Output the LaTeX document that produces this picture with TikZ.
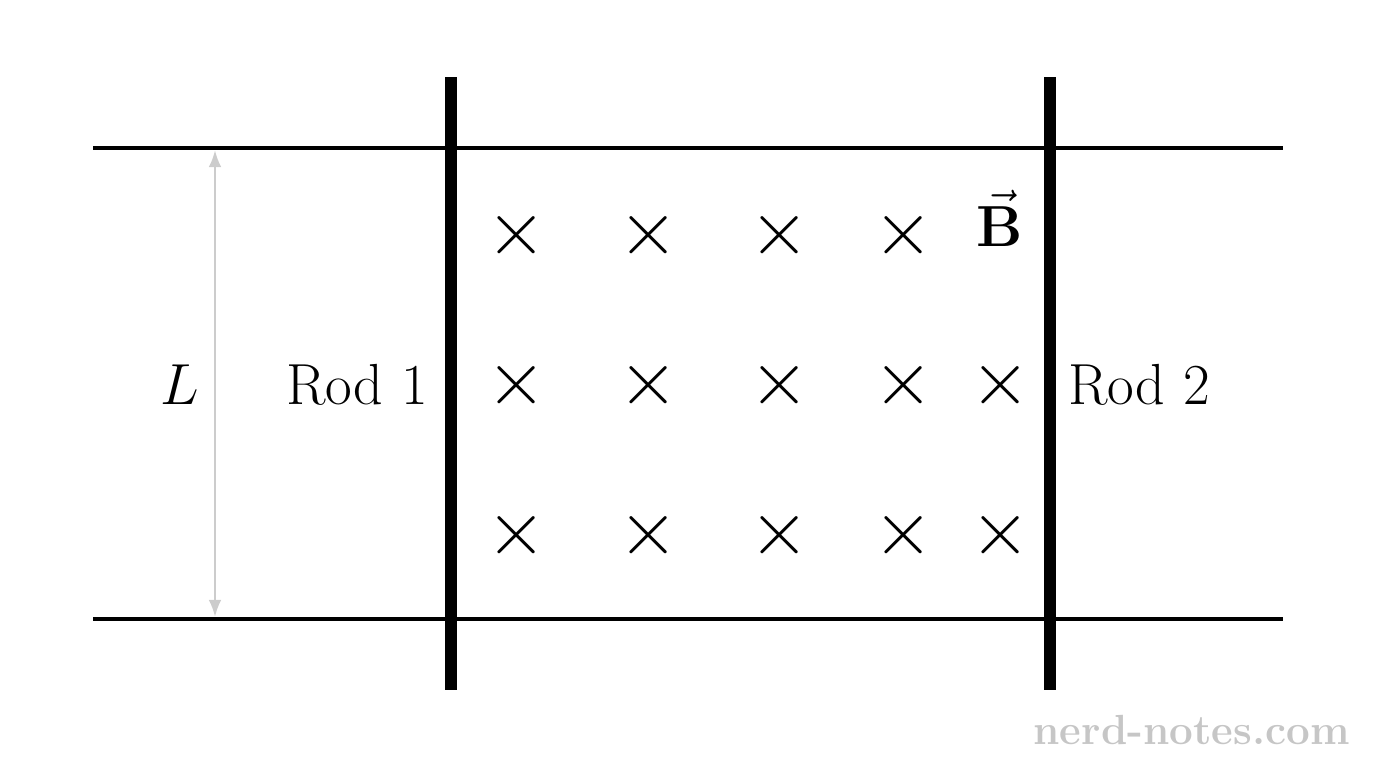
\RequirePackage{fix-cm}
\documentclass[tikz,border=0pt]{standalone}
\usepackage{amsmath}
\usetikzlibrary{arrows.meta}
\tikzset{
  rail/.style={line width=2.3pt},
  rod/.style={line width=6.8pt},
  field/.style={font=\fontsize{44}{44}\selectfont, inner sep=0pt},
  lbl/.style={font=\fontsize{33}{40}\selectfont, inner sep=0pt},
}
\begin{document}
\begin{tikzpicture}[x=0.02cm,y=-0.02cm,>=Latex]
\useasboundingbox (0,0) rectangle (1376,768);
%% rails
\coordinate (rail_tl) at (93,148);  \coordinate (rail_tr) at (1283,148);
\coordinate (rail_bl) at (93,619);  \coordinate (rail_br) at (1283,619);
\draw[rail] (rail_tl) -- (rail_tr);
\draw[rail] (rail_bl) -- (rail_br);
%% rods
\coordinate (rod1_t) at (451,77);  \coordinate (rod1_b) at (451,690);
\coordinate (rod2_t) at (1050,77); \coordinate (rod2_b) at (1050,690);
\draw[rod] (rod1_t) -- (rod1_b);
\draw[rod] (rod2_t) -- (rod2_b);
%% field
\foreach \x/\i in {517/1,649/2,780/3,904/4}
  \foreach \y/\j in {235/1,385/2,535/3}
    \node[field] (cross_\i_\j) at (\x,\y) {$\times$};
\node[field] (cross_5_2) at (1001,385) {$\times$};
\node[field] (cross_5_3) at (1001,535) {$\times$};
\node[lbl] (field_B) at (1000,218) {$\vec{\mathbf{B}}$};
%% labels
\node[lbl, anchor=east] (rod_1) at (428,385) {Rod 1};
\node[lbl, anchor=west] (rod_2) at (1068,385) {Rod 2};
\coordinate (len_t) at (215,150);
\coordinate (len_b) at (215,617);
\draw[gray!40, line width=1.5pt, <->] (len_t) -- (len_b);
\node[lbl] (len_L) at (180,385) {$L$};
\node[lbl, font=\bfseries\fontsize{24}{24}\selectfont, text=gray!45, anchor=east] (mark) at (1350,730) {nerd-notes.com};
%
\end{tikzpicture}
\end{document}
